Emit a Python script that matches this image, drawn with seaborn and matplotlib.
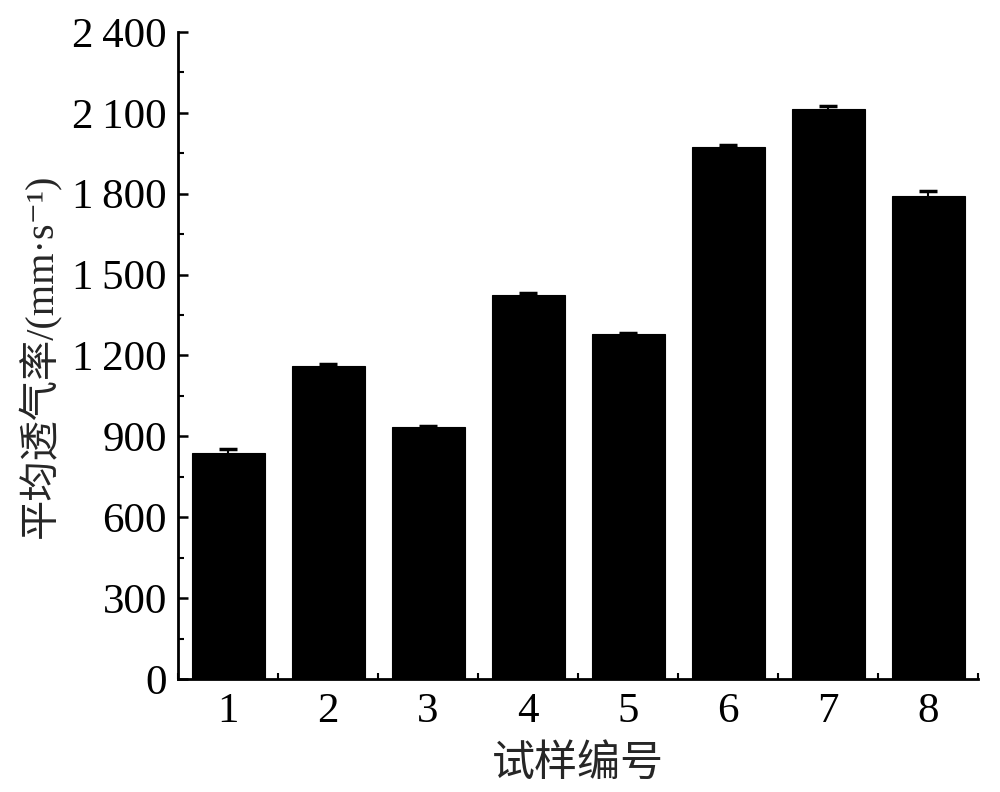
import matplotlib
matplotlib.use("Agg")
import matplotlib.pyplot as plt
from matplotlib.ticker import MultipleLocator, FixedLocator, FuncFormatter
import seaborn as sns
import pandas as pd
import numpy as np

samples = ["1", "2", "3", "4", "5", "6", "7", "8"]
means = [838, 1162, 933, 1423, 1280, 1975, 2115, 1793]
errors = [14, 7, 5, 7, 3, 6, 12, 18]
y_ticks = [0, 300, 600, 900, 1200, 1500, 1800, 2100, 2400]

sns.set_theme(style="ticks")
plt.rcParams['font.family'] = ['Liberation Serif', 'Noto Sans CJK SC', 'DejaVu Sans']

df = pd.DataFrame({"sample": samples, "mean": means})

fig = plt.figure(figsize=(10, 7.92), dpi=100)
ax = fig.add_axes([0.178, 0.1427, 0.80, 0.8169])

sns.barplot(data=df, x="sample", y="mean", color="black", width=0.73,
            edgecolor="black", linewidth=0.8, errorbar=None, ax=ax, saturation=1)
ax.errorbar(np.arange(len(samples)), means, yerr=errors, fmt="none",
            ecolor="black", elinewidth=1.5, capsize=6.5, capthick=2.5)

ax.set_ylim(0, 2400)
ax.set_xlim(-0.5, 7.5)
ax.yaxis.set_major_locator(FixedLocator(y_ticks))
ax.yaxis.set_minor_locator(MultipleLocator(150))
ax.yaxis.set_major_formatter(FuncFormatter(
    lambda v, p: f"{int(v):,}".replace(",", "\u2009")))
ax.xaxis.set_minor_locator(FixedLocator(np.arange(-0.5, 8.0, 1.0)))

for s in ["top", "right"]:
    ax.spines[s].set_visible(False)
for s in ["left", "bottom"]:
    ax.spines[s].set_linewidth(2)
    ax.spines[s].set_color("black")

ax.tick_params(axis="both", which="major", direction="in", length=7, width=1.8,
               labelsize=31, colors="black", pad=8)
ax.tick_params(axis="both", which="minor", direction="in", length=4, width=1.5,
               colors="black")
ax.tick_params(axis="x", which="major", length=0, pad=10)

ax.set_xlabel("试样编号", fontsize=31, labelpad=10)
ax.set_ylabel("平均透气率/(mm·s\u207b\u00b9)", fontsize=29, labelpad=8)

fig.savefig("out.png", dpi=100, facecolor="white")
